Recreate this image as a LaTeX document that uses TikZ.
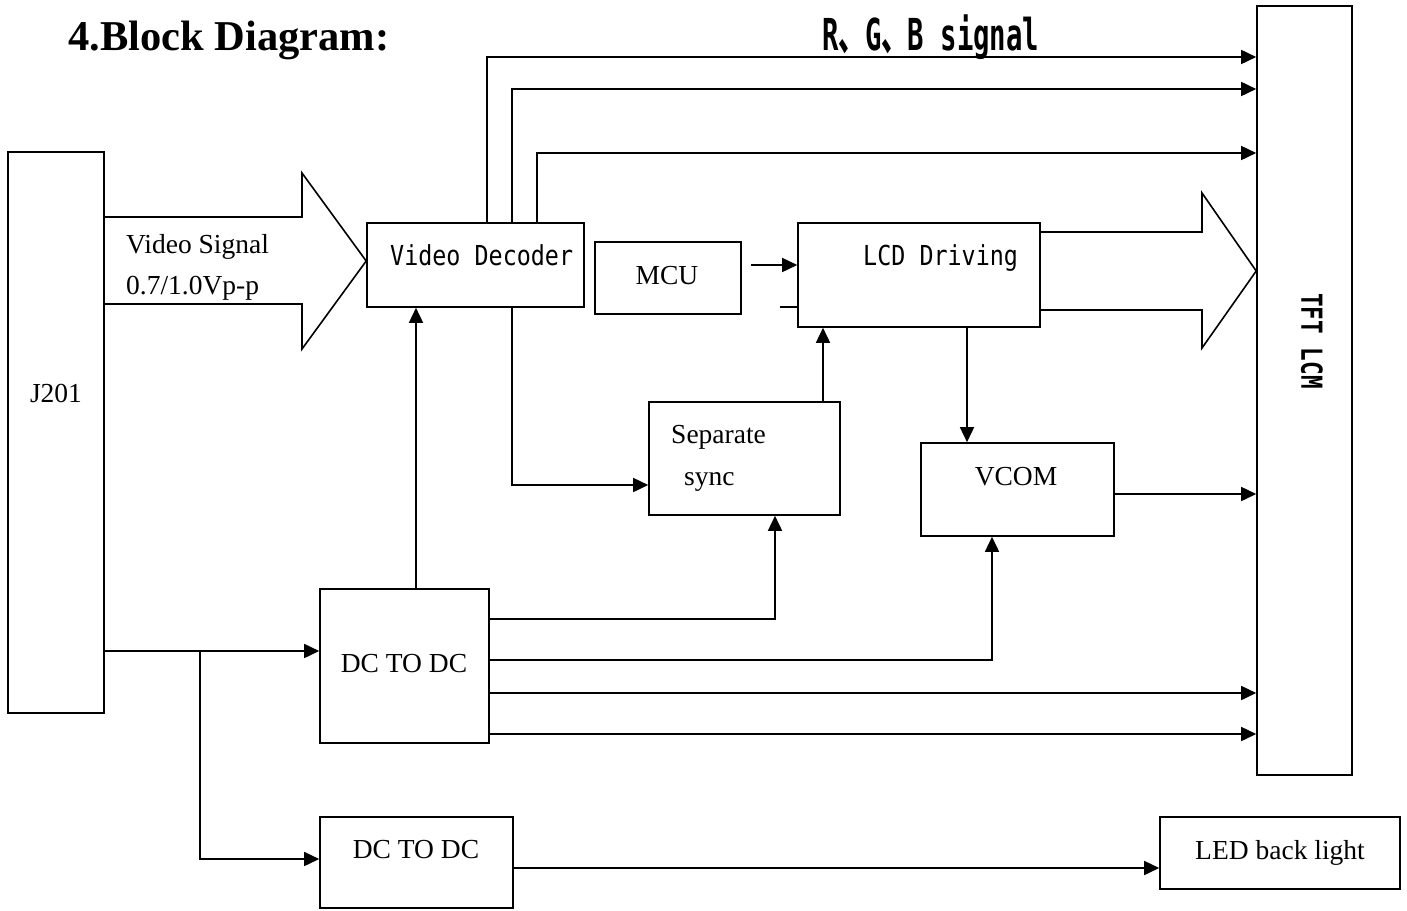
\documentclass[tikz,border=0pt]{standalone}
\usepackage{fontspec}
\setmainfont{Liberation Serif}
\newfontfamily\monof[FakeStretch=0.85]{DejaVu Sans Mono}
\newfontfamily\tftf[FakeStretch=0.78]{DejaVu Sans Mono}
\newfontfamily\rgbf[FakeStretch=0.62]{DejaVu Sans Mono}
\newfontfamily\cjkc[FakeStretch=0.6]{Noto Sans CJK SC}
\usetikzlibrary{arrows.meta,fit}
\tikzset{
  box/.style={draw, line width=1.6pt, inner sep=0pt, rectangle},
  serif/.style={font=\fontsize{27.5}{30}\selectfont, inner sep=0pt},
  mono/.style={font=\monof\fontsize{27.5}{30}\selectfont, inner sep=0pt},
  conn/.style={line width=1.6pt},
  arr/.style={conn, -{Triangle[length=15pt,width=14pt]}},
  bigarrow/.style={line width=1.6pt, line join=miter},
}
\begin{document}
\begin{tikzpicture}[x=1pt,y=-1pt]
\useasboundingbox (0,0) rectangle (1407,910);

% title and header
\node[anchor=base west, inner sep=0pt, font=\fontsize{42.5}{46}\selectfont\bfseries] (title) at (68,50) {4.Block Diagram:};
\node[anchor=base west, inner sep=0pt, font=\rgbf\bfseries\fontsize{44}{46}\selectfont] (rgb) at (822,50) {R{\cjkc\bfseries 、}G{\cjkc\bfseries 、}B signal};

% boxes
\node[box, fit={(8,152) (104,713)}] (j201) {};
\node[box, fit={(367,223) (584,307)}] (vd) {};
\node[box, fit={(595,242) (741,314)}] (mcu) {};
\node[box, fit={(798,223) (1040,327)}] (lcd) {};
\node[box, fit={(649,402) (840,515)}] (sep) {};
\node[box, fit={(921,443) (1114,536)}] (vcom) {};
\node[box, fit={(320,589) (489,743)}] (dc1) {};
\node[box, fit={(320,817) (513,908)}] (dc2) {};
\node[box, fit={(1160,817) (1400,889)}] (led) {};
\node[box, fit={(1257,6) (1352,775)}] (tft) {};

% box texts
\node[serif, anchor=base] (j201t) at (56,402) {J201};
\node[mono, anchor=base west] (vdt) at (390,265) {Video Decoder};
\node[serif, anchor=base] (mcut) at (667,284) {MCU};
\node[mono, anchor=base west] (lcdt) at (863,265) {LCD Driving};
\node[serif, anchor=base west] (sept1) at (671,443) {Separate};
\node[serif, anchor=base west] (sept2) at (684,485) {sync};
\node[serif, anchor=base] (vcomt) at (1016,485) {VCOM};
\node[serif, anchor=base] (dc1t) at (404,672) {DC TO DC};
\node[serif, anchor=base] (dc2t) at (416,858) {DC TO DC};
\node[serif, anchor=base] (ledt) at (1280,859) {LED back light};
\node[rotate=-90, inner sep=0pt, font=\tftf\bfseries\fontsize{29}{30}\selectfont] (tftt) at (1312,341) {TFT LCM};

% big arrow J201 -> Video Decoder
\draw[bigarrow] (j201.east |- 0,217) -- (302,217) -- (302,173) -- (vd.west |- 0,261)
  -- (302,349) -- (302,304) -- (j201.east |- 0,304);
\node[serif, anchor=base west] (vs1) at (126,253) {Video Signal};
\node[serif, anchor=base west] (vs2) at (126,294) {0.7/1.0Vp-p};

% big arrow LCD Driving -> TFT
\draw[bigarrow] (lcd.east |- 0,232) -- (1202,232) -- (1202,193) -- (tft.west |- 0,271)
  -- (1202,348) -- (1202,310) -- (lcd.east |- 0,310);

% R G B lines
\draw[arr] (487,0 |- vd.north) |- (tft.west |- 0,57);
\draw[arr] (512,0 |- vd.north) |- (tft.west |- 0,89);
\draw[arr] (537,0 |- vd.north) |- (tft.west |- 0,153);

% MCU -> LCD
\coordinate (mcuout) at (751,265);
\draw[arr] (mcuout) -- (lcd.west |- mcuout);
\coordinate (lcdin2) at (780,307);
\draw[conn] (lcdin2) -- (lcd.west |- lcdin2);

% Video decoder -> separate sync
\draw[arr] (512,0 |- vd.south) |- (sep.west |- 0,485);
% separate sync -> LCD
\draw[arr] (823,0 |- sep.north) -- (823,0 |- lcd.south);
% LCD -> VCOM
\draw[arr] (967,0 |- lcd.south) -- (967,0 |- vcom.north);
% VCOM -> TFT
\draw[arr] (vcom.east |- 0,494) -- (tft.west |- 0,494);

% DC1 -> video decoder
\draw[arr] (416,0 |- dc1.north) -- (416,0 |- vd.south);
% J201 -> DC1, DC2
\draw[arr] (j201.east |- 0,651) -- (dc1.west |- 0,651);
\draw[arr] (200,651) |- (dc2.west |- 0,859);
% DC1 outputs
\draw[arr] (dc1.east |- 0,619) -| (775,0 |- sep.south);
\draw[arr] (dc1.east |- 0,660) -| (992,0 |- vcom.south);
\draw[arr] (dc1.east |- 0,693) -- (tft.west |- 0,693);
\draw[arr] (dc1.east |- 0,734) -- (tft.west |- 0,734);
% DC2 -> LED
\draw[arr] (dc2.east |- 0,868) -- (led.west |- 0,868);
\end{tikzpicture}
\end{document}
